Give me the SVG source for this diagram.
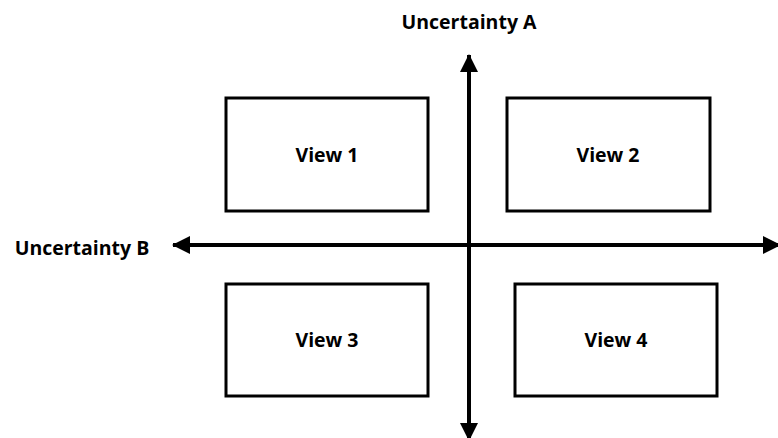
<svg xmlns="http://www.w3.org/2000/svg" width="778" height="438" viewBox="0 0 778 438">
  <style>
    .box { fill: #ffffff; stroke: #000000; stroke-width: 3; }
    .axis { stroke: #000000; stroke-width: 4; fill: none; }
    .label { font-family: "Open Sans", "Liberation Sans", sans-serif; font-weight: bold; font-size: 19.5px; fill: #000000; }
  </style>
  <defs>
    <marker id="head" markerUnits="userSpaceOnUse" markerWidth="18" markerHeight="18" viewBox="0 0 18 18" refX="17" refY="9" orient="auto">
      <path d="M0,0 L18,9 L0,18 Z" fill="#000000"/>
    </marker>
  </defs>

  <g id="connectors">
    <line class="axis" x1="469" y1="245" x2="469" y2="55" marker-end="url(#head)"/>
    <line class="axis" x1="469" y1="245" x2="469" y2="440" marker-end="url(#head)"/>
    <line class="axis" x1="469" y1="245" x2="173" y2="245" marker-end="url(#head)"/>
    <line class="axis" x1="469" y1="245" x2="780" y2="245" marker-end="url(#head)"/>
  </g>

  <g id="label-a">
    <text class="label" x="469" y="29" text-anchor="middle">Uncertainty A</text>
  </g>
  <g id="label-b">
    <text class="label" x="82" y="255" text-anchor="middle">Uncertainty B</text>
  </g>

  <g id="view1">
    <rect class="box" x="226" y="98" width="202" height="113"/>
    <text class="label" x="327" y="162" text-anchor="middle">View 1</text>
  </g>
  <g id="view2">
    <rect class="box" x="507" y="98" width="203" height="113"/>
    <text class="label" x="608" y="162" text-anchor="middle">View 2</text>
  </g>
  <g id="view3">
    <rect class="box" x="226" y="284" width="202" height="112"/>
    <text class="label" x="327" y="347" text-anchor="middle">View 3</text>
  </g>
  <g id="view4">
    <rect class="box" x="515" y="284" width="202" height="112"/>
    <text class="label" x="616" y="347" text-anchor="middle">View 4</text>
  </g>
</svg>
